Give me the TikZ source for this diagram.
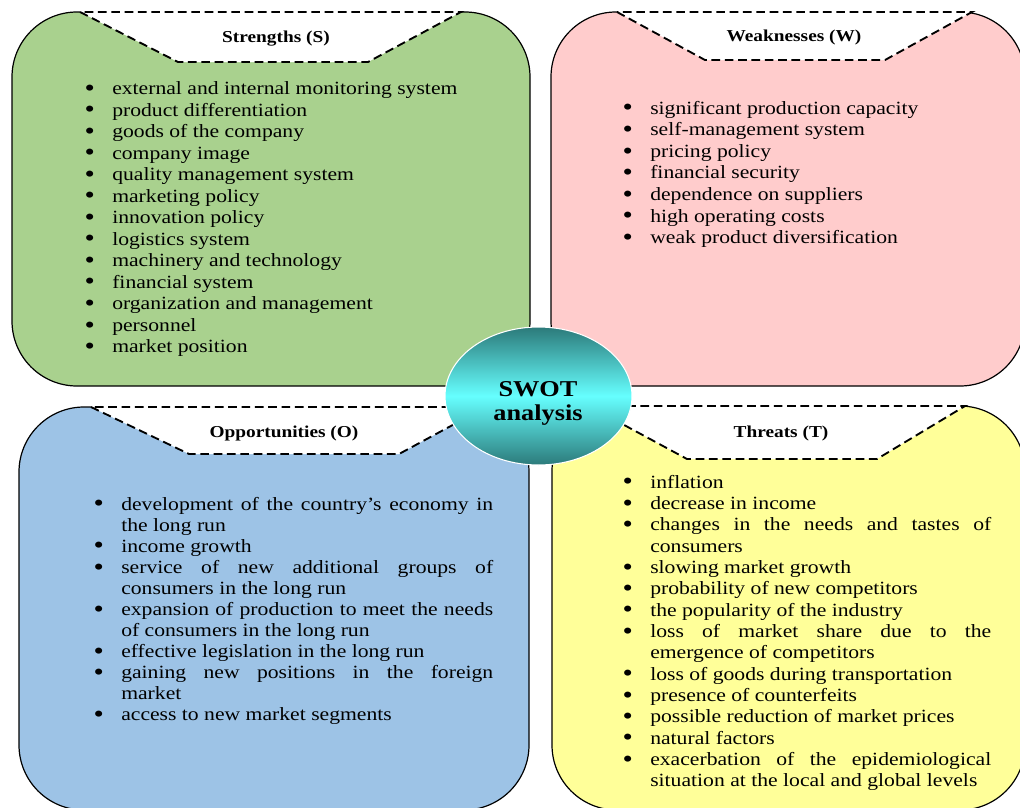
\documentclass[tikz,border=0pt]{standalone}
\usepackage{fontspec}
\setmainfont{Liberation Serif}[FakeStretch=1.16]
\usetikzlibrary{shapes.geometric}

\definecolor{sgreen}{RGB}{169,209,142}
\definecolor{wpink}{RGB}{255,204,204}
\definecolor{oblue}{RGB}{157,195,230}
\definecolor{tyellow}{RGB}{255,255,153}
\definecolor{tealdark}{RGB}{44,122,122}
\definecolor{cyanlight}{RGB}{102,255,255}

% list helpers: bullet line, continuation line, stretched (justified) line
\newcommand{\bul}{\makebox[22pt][l]{\hspace{1.2pt}\raisebox{-1.2pt}{\fontsize{19}{16}\selectfont\textbullet}}}
\newcommand{\bi}[1]{\strut\bul#1}
\newcommand{\ci}[1]{\strut\hspace*{22pt}#1}
\newcommand{\jl}[2]{\makebox[#1][s]{#2}}

\tikzset{
  quad/.style={rectangle, draw=black, line width=0.9pt, rounded corners=48.75pt,
    inner sep=0pt, outer sep=0pt},
  tabline/.style={draw=black, line width=1.4pt, dash pattern=on 6.5pt off 3.5pt},
  tabtitle/.style={font=\bfseries\fontsize{12.5}{14}\selectfont, anchor=base, inner sep=0pt},
  listtext/.style={align=left, inner sep=0pt, anchor=north west},
}

\begin{document}
\begin{tikzpicture}[x=0.75pt,y=-0.75pt]
\useasboundingbox (0,0) rectangle (1020,807);
\clip (0,0) rectangle (1020,807);

% the four quadrants
\node[quad, fill=sgreen, minimum width=388.5pt, minimum height=280.5pt] (sbox) at (271,199) {};
\node[quad, fill=wpink, minimum width=355.5pt, minimum height=280.5pt] (wbox) at (788,199) {};
\node[quad, fill=oblue, minimum width=382.5pt, minimum height=302.25pt] (obox) at (274,608.5) {};
\node[quad, fill=tyellow, minimum width=354.75pt, minimum height=303pt] (tbox) at (788.5,608) {};

% title tabs cut into the top of each quadrant
\fill[white] (80,9) -- (80,12) -- (178,62) -- (368,62) -- (461,12) -- (461,9) -- cycle;
\draw[tabline] (80,12) -- (178,62) -- (368,62) -- (461,12) -- cycle;
\fill[white] (617,9) -- (617,12) -- (705,60) -- (885,60) -- (972,12) -- (972,9) -- cycle;
\draw[tabline] (617,12) -- (705,60) -- (885,60) -- (972,12) -- cycle;
\fill[white] (91,404) -- (91,407) -- (189,454) -- (399,454) -- (486,407) -- (486,404) -- cycle;
\draw[tabline] (91,407) -- (189,454) -- (399,454) -- (486,407) -- cycle;
\fill[white] (589,403) -- (589,406) -- (687,459) -- (877,459) -- (965,406) -- (965,403) -- cycle;
\draw[tabline] (589,406) -- (687,459) -- (877,459) -- (965,406) -- cycle;

\node[tabtitle] (stitle) at (276,42) {Strengths (S)};
\node[tabtitle] (wtitle) at (794,41) {Weaknesses (W)};
\node[tabtitle] (otitle) at (284,437) {Opportunities (O)};
\node[tabtitle] (ttitle) at (781,437) {Threats (T)};

% strengths
\node[listtext, font=\fontsize{14}{16.15}\selectfont] (slist) at (82.67,79.2) {%
\bi{external and internal monitoring system}\\
\bi{product differentiation}\\
\bi{goods of the company}\\
\bi{company image}\\
\bi{quality management system}\\
\bi{marketing policy}\\
\bi{innovation policy}\\
\bi{logistics system}\\
\bi{machinery and technology}\\
\bi{financial system}\\
\bi{organization and management}\\
\bi{personnel}\\
\bi{market position}};

% weaknesses
\node[listtext, font=\fontsize{14}{16.15}\selectfont] (wlist) at (620.67,99) {%
\bi{significant production capacity}\\
\bi{self-management system}\\
\bi{pricing policy}\\
\bi{financial security}\\
\bi{dependence on suppliers}\\
\bi{high operating costs}\\
\bi{weak product diversification}};

% opportunities
\node[listtext, font=\fontsize{14}{15.8}\selectfont] (olist) at (91.67,495.2) {%
\bi{\jl{279pt}{development of the country's economy in}}\\
\ci{the long run}\\
\bi{income growth}\\
\bi{\jl{279pt}{service of new additional groups of}}\\
\ci{consumers in the long run}\\
\bi{\jl{279pt}{expansion of production to meet the needs}}\\
\ci{of consumers in the long run}\\
\bi{effective legislation in the long run}\\
\bi{\jl{279pt}{gaining new positions in the foreign}}\\
\ci{market}\\
\bi{access to new market segments}};

% threats
\node[listtext, font=\fontsize{14}{16}\selectfont] (tlist) at (620.67,473) {%
\bi{inflation}\\
\bi{decrease in income}\\
\bi{\jl{255.75pt}{changes in the needs and tastes of}}\\
\ci{consumers}\\
\bi{slowing market growth}\\
\bi{probability of new competitors}\\
\bi{the popularity of the industry}\\
\bi{\jl{255.75pt}{loss of market share due to the}}\\
\ci{emergence of competitors}\\
\bi{loss of goods during transportation}\\
\bi{presence of counterfeits}\\
\bi{possible reduction of market prices}\\
\bi{natural factors}\\
\bi{\jl{255.75pt}{exacerbation of the epidemiological}}\\
\ci{situation at the local and global levels}};

% centre ellipse
\node[ellipse, draw=white, line width=0.8pt, minimum width=140.25pt, minimum height=103.5pt,
  inner sep=0pt, top color=tealdark, bottom color=tealdark, middle color=cyanlight] (swot) at (538.5,396) {};
\node[font=\bfseries\fontsize{17}{17.5}\selectfont, align=center, inner sep=0pt] (swotlabel) at (538,403.4) {SWOT\\analysis};
\end{tikzpicture}
\end{document}
